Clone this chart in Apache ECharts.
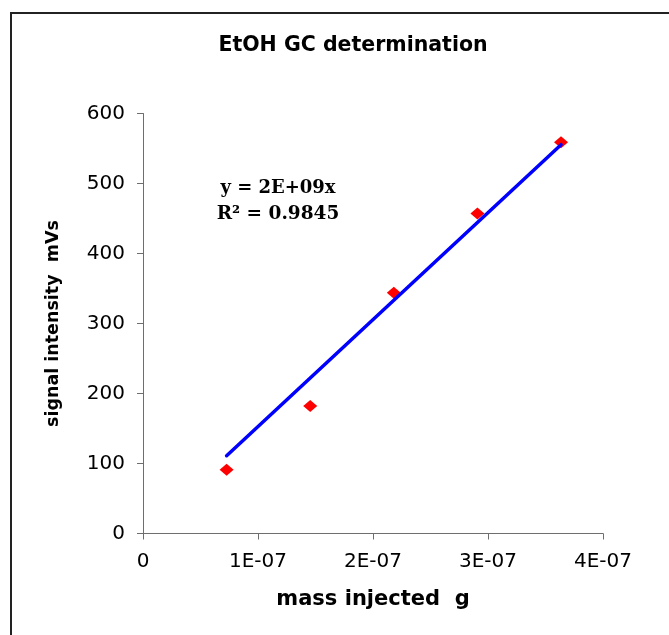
<!DOCTYPE html>
<html>
<head>
<meta charset="utf-8">
<title>EtOH GC determination</title>
<script src="https://cdn.jsdelivr.net/npm/echarts@6/dist/echarts.min.js"></script>
<style>
  html, body { margin: 0; padding: 0; background: #ffffff; }
  #chart { width: 669px; height: 635px; }
</style>
</head>
<body>
<div id="chart"></div>
<script>
// Calibration points: injected ethanol mass (g) vs. GC peak area (mV·s)
const massInjected = [7.27e-8, 1.454e-7, 2.181e-7, 2.908e-7, 3.635e-7];
const signalArea = [91, 182, 344, 457, 559];

// Axis tick labels
const xTickLabels = ['0', '1E-07', '2E-07', '3E-07', '4E-07'];
const yTickLabels = ['0', '100', '200', '300', '400', '500', '600'];

// Trendline text as reported
const fitEquation = 'y = 2E+09x';
const fitR2 = 'R\u00B2 = 0.9845';

// Linear trendline forced through the origin (least squares: b = Σxy / Σx²)
let sxy = 0, sxx = 0;
for (let i = 0; i < massInjected.length; i++) {
  sxy += massInjected[i] * signalArea[i];
  sxx += massInjected[i] * massInjected[i];
}
const slope = sxy / sxx;
const xFirst = massInjected[0];
const xLast = massInjected[massInjected.length - 1];
const trendData = [[xFirst, slope * xFirst], [xLast, slope * xLast]];

const scatterData = massInjected.map((x, i) => [x, signalArea[i]]);

const chart = echarts.init(document.getElementById('chart'), null, { renderer: 'canvas' });

const axisColor = '#6e6e6e';
const labelFont = 'DejaVu Sans';

chart.setOption({
  backgroundColor: '#ffffff',
  animation: false,
  title: {
    text: 'EtOH GC determination',
    left: 348,
    textAlign: 'center',
    top: 30,
    textStyle: { fontFamily: labelFont, fontWeight: 'bold', fontSize: 20.5, color: '#000000' }
  },
  graphic: [
    {
      // chart-area frame; its right and bottom edges run off the page
      type: 'rect',
      shape: { x: 11, y: 13, width: 720, height: 700 },
      style: { fill: 'none', stroke: '#222222', lineWidth: 2 },
      silent: true, z: -1
    },
    {
      type: 'text',
      x: 278, y: 188.6,
      style: {
        text: fitEquation, align: 'center', verticalAlign: 'middle',
        fontFamily: 'DejaVu Serif', fontWeight: 'bold', fontSize: 18, fill: '#000000'
      }
    },
    {
      type: 'text',
      x: 278, y: 213.9,
      style: {
        text: fitR2, align: 'center', verticalAlign: 'middle',
        fontFamily: 'DejaVu Serif', fontWeight: 'bold', fontSize: 18.5, fill: '#000000'
      }
    }
  ],
  grid: { left: 143, top: 113.5, width: 460, height: 420, containLabel: false },
  xAxis: {
    type: 'value',
    min: 0, max: 4e-7, interval: 1e-7,
    name: 'mass injected  g',
    nameLocation: 'middle',
    nameGap: 56,
    nameTextStyle: { fontFamily: labelFont, fontWeight: 'bold', fontSize: 21, color: '#000000' },
    axisLine: { onZero: false, lineStyle: { color: axisColor, width: 1 } },
    axisTick: { show: true, inside: false, length: 6, lineStyle: { color: axisColor } },
    axisLabel: {
      margin: 18,
      fontFamily: labelFont, fontSize: 20, color: '#000000',
      formatter: v => xTickLabels[Math.round(v / 1e-7)]
    },
    splitLine: { show: false }
  },
  yAxis: {
    type: 'value',
    min: 0, max: 600, interval: 100,
    name: 'signal intensity  mVs',
    nameLocation: 'middle',
    nameGap: 81,
    nameTextStyle: { fontFamily: labelFont, fontWeight: 'bold', fontSize: 17.5, color: '#000000' },
    axisLine: { show: true, lineStyle: { color: axisColor, width: 1 } },
    axisTick: { show: true, inside: false, length: 6, lineStyle: { color: axisColor } },
    axisLabel: {
      margin: 18,
      fontFamily: labelFont, fontSize: 20, color: '#000000',
      formatter: v => yTickLabels[Math.round(v / 100)]
    },
    splitLine: { show: false }
  },
  series: [
    {
      name: 'measured',
      type: 'scatter',
      data: scatterData,
      symbol: 'diamond',
      symbolSize: [14, 12],
      itemStyle: { color: '#ff0000', opacity: 1 },
      z: 2
    },
    {
      name: 'trend',
      type: 'line',
      data: trendData,
      showSymbol: false,
      symbol: 'none',
      lineStyle: { color: '#0000ff', width: 3.5, cap: 'round' },
      z: 3
    }
  ]
});
</script>
</body>
</html>
